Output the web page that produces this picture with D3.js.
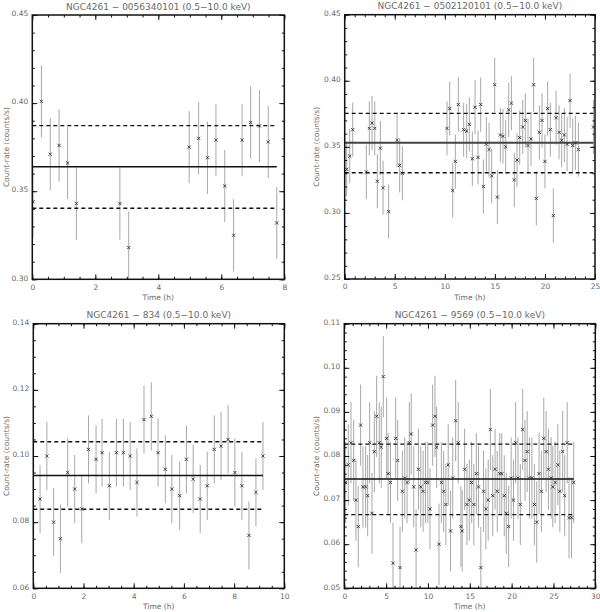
<!DOCTYPE html>
<html><head><meta charset="utf-8">
<script src="https://cdn.jsdelivr.net/npm/d3@7"></script>
<style>body{margin:0;background:#fff}svg{display:block}</style>
</head><body>
<svg id="c" width="600" height="612"></svg>
<script>
// ---------- Panel 1: NGC4261 - 0056340101 ----------
const p1Title = "NGC4261 \u2212 0056340101 (0.5\u221210.0 keV)";
const p1Time = [0.02,0.29,0.57,0.85,1.12,1.40,2.78,3.06,4.98,5.28,5.56,5.83,6.11,6.39,6.66,6.93,7.21,7.49,7.76];
const p1Rate = [0.344,0.401,0.371,0.376,0.366,0.343,0.343,0.318,0.375,0.380,0.369,0.379,0.353,0.325,0.379,0.389,0.387,0.378,0.332];
const p1Err = 0.0205;
const p1Stats = [0.3639, 0.3403, 0.3872]; // mean, lower, upper
const p1XTicks = [0,2,4,6,8];
const p1YTicks = [0.30,0.35,0.40,0.45];

// ---------- Panel 2: NGC4261 - 0502120101 ----------
const p2Title = "NGC4261 \u2212 0502120101 (0.5\u221210.0 keV)";
const p2Time = [0.2,0.5,0.8,2.16,2.46,2.73,3.0,3.26,3.56,3.83,4.39,5.23,5.49,5.76,
  10.22,10.49,10.79,11.05,11.35,11.88,12.18,12.45,12.75,13.02,13.32,13.58,13.85,14.15,14.42,14.68,
  14.98,15.25,15.55,15.81,16.08,16.38,16.65,16.94,17.21,17.48,17.78,18.04,18.31,18.61,18.87,19.14,
  19.44,19.71,20.0,20.27,20.54,20.84,21.11,21.41,21.67,21.94,22.21,22.51,22.77,23.04,23.34,24.84];
const p2Rate = [0.333,0.343,0.363,0.331,0.364,0.368,0.364,0.324,0.349,0.319,0.301,0.355,0.336,0.330,
  0.364,0.379,0.317,0.339,0.382,0.363,0.362,0.367,0.341,0.380,0.342,0.382,0.320,0.352,0.348,0.328,
  0.397,0.312,0.359,0.358,0.350,0.378,0.383,0.325,0.340,0.357,0.365,0.370,0.351,0.356,0.397,0.311,
  0.361,0.370,0.339,0.379,0.363,0.298,0.372,0.361,0.355,0.359,0.352,0.385,0.351,0.353,0.348,0.365];
const p2Err = 0.0205;
const p2Stats = [0.3531, 0.3304, 0.3753];
const p2XTicks = [0,5,10,15,20,25];
const p2YTicks = [0.25,0.30,0.35,0.40,0.45];

// ---------- Panel 3: NGC4261 - 834 ----------
const p3Title = "NGC4261 \u2212 834 (0.5\u221210.0 keV)";
const p3Time = [0.27,0.54,0.81,1.08,1.37,1.65,1.93,2.20,2.50,2.74,3.03,3.31,3.59,3.86,4.13,4.41,4.70,
  4.97,5.26,5.52,5.83,6.10,6.37,6.65,6.93,7.21,7.48,7.76,8.03,8.31,8.59,8.87,9.15];
const p3Rate = [0.087,0.100,0.080,0.075,0.095,0.090,0.084,0.102,0.099,0.101,0.091,0.101,0.101,0.100,0.092,0.111,0.112,
  0.101,0.096,0.090,0.088,0.099,0.093,0.087,0.091,0.102,0.103,0.105,0.095,0.091,0.076,0.089,0.100];
const p3Err = 0.0103;
const p3Stats = [0.0941, 0.0839, 0.1043];
const p3XTicks = [0,2,4,6,8,10];
const p3YTicks = [0.06,0.08,0.10,0.12,0.14];

// ---------- Panel 4: NGC4261 - 9569 ----------
const p4Title = "NGC4261 \u2212 9569 (0.5\u221210.0 keV)";
const p4Time = [0.16,0.48,0.80,1.12,1.39,1.67,1.95,2.23,2.55,2.79,3.03,3.31,3.59,3.86,4.18,4.42,4.66,5.06,
  5.24,5.52,5.82,6.14,6.38,6.66,6.94,7.22,7.50,7.77,8.00,8.30,8.58,8.86,9.14,9.42,9.70,9.98,
  10.24,10.56,10.84,11.04,11.32,11.60,11.88,12.14,12.42,12.70,12.96,13.31,13.62,13.94,14.09,14.38,
  14.66,14.94,15.22,15.48,15.78,16.04,16.32,16.64,16.92,17.20,17.46,17.74,18.02,18.28,18.58,18.82,
  19.12,19.36,19.64,19.94,20.22,20.48,20.76,21.04,21.32,21.60,21.86,22.14,22.42,22.72,23.00,23.28,
  23.56,23.84,24.12,24.40,24.72,24.92,25.20,25.52,25.76,26.10,26.34,26.64,26.86,27.16,27.42];
const p4Rate = [0.074,0.078,0.083,0.079,0.070,0.064,0.087,0.073,0.073,0.071,0.083,0.067,0.081,0.089,0.083,0.082,0.098,0.084,
  0.076,0.074,0.0557,0.084,0.079,0.0547,0.072,0.075,0.074,0.083,0.085,0.073,0.0587,0.077,0.073,0.072,0.074,0.074,
  0.068,0.087,0.089,0.082,0.060,0.074,0.072,0.069,0.078,0.063,0.075,0.088,0.083,0.064,0.063,0.077,
  0.069,0.070,0.074,0.069,0.076,0.073,0.0547,0.072,0.068,0.070,0.086,0.071,0.077,0.072,0.076,0.076,
  0.071,0.067,0.064,0.075,0.070,0.083,0.075,0.069,0.086,0.079,0.081,0.075,0.075,0.069,0.065,0.076,
  0.072,0.084,0.081,0.077,0.075,0.073,0.074,0.078,0.072,0.081,0.071,0.083,0.066,0.066,0.074];
const p4Err = 0.0092;
const p4Stats = [0.0748, 0.0667, 0.0827];
const p4XTicks = [0,5,10,15,20,25,30];
const p4YTicks = [0.05,0.06,0.07,0.08,0.09,0.10,0.11];

const xLabel = "Time (h)";
const yLabel = "Count-rate (counts/s)";

const panels = [
  {title:p1Title, t:p1Time, r:p1Rate, err:p1Err, stats:p1Stats, xt:p1XTicks, yt:p1YTicks, xMinor:0.5, yMinor:0.01,
   box:{l:32.3, r:284.3, t:15, b:279.3}, yTitleOff:26},
  {title:p2Title, t:p2Time, r:p2Rate, err:p2Err, stats:p2Stats, xt:p2XTicks, yt:p2YTicks, xMinor:1, yMinor:0.01,
   box:{l:344.7, r:595, t:14.7, b:279}, yTitleOff:28},
  {title:p3Title, t:p3Time, r:p3Rate, err:p3Err, stats:p3Stats, xt:p3XTicks, yt:p3YTicks, xMinor:0.5, yMinor:0.005,
   box:{l:33.3, r:284.3, t:323.7, b:588.3}, yTitleOff:27},
  {title:p4Title, t:p4Time, r:p4Rate, err:p4Err, stats:p4Stats, xt:p4XTicks, yt:p4YTicks, xMinor:1, yMinor:0.002,
   box:{l:344.3, r:595.3, t:323.7, b:588.3}, yTitleOff:28}
];

const svg = d3.select("#c");
const FONT = "'DejaVu Sans', 'Liberation Sans', sans-serif";
const TXT = "#6a6a6a";

function range(a, b, s) {
  const out = []; const n = Math.round((b - a) / s);
  for (let i = 0; i <= n; i++) out.push(+(a + i * s).toFixed(6));
  return out;
}

panels.forEach((p, i) => {
  const B = p.box;
  const x = d3.scaleLinear().domain([p.xt[0], p.xt[p.xt.length-1]]).range([B.l, B.r]);
  const y = d3.scaleLinear().domain([p.yt[0], p.yt[p.yt.length-1]]).range([B.b, B.t]);
  const g = svg.append("g");
  const clipId = "clip" + i;
  svg.append("clipPath").attr("id", clipId).append("rect")
    .attr("x", B.l).attr("y", B.t).attr("width", B.r - B.l).attr("height", B.b - B.t);

  const data = p.t.map((tt, k) => ({t: tt, r: p.r[k]}));
  const plot = g.append("g").attr("clip-path", `url(#${clipId})`);

  // error bars
  plot.selectAll("line.err").data(data).join("line").attr("class","err")
    .attr("x1", d => x(d.t)).attr("x2", d => x(d.t))
    .attr("y1", d => y(d.r - p.err)).attr("y2", d => y(d.r + p.err))
    .attr("stroke", "#a8a8a8").attr("stroke-width", 1);

  // mean and bounds lines
  const tEnd = d3.max(p.t);
  const lines = [
    {v: p.stats[0], dash: null},
    {v: p.stats[1], dash: "4,3"},
    {v: p.stats[2], dash: "4,3"}
  ];
  plot.selectAll("line.stat").data(lines).join("line").attr("class","stat")
    .attr("x1", x(p.xt[0])).attr("x2", x(tEnd))
    .attr("y1", d => y(d.v)).attr("y2", d => y(d.v))
    .attr("stroke", d => d.dash ? "#111" : (i === 1 ? "#444" : "#111"))
    .attr("stroke-width", d => d.dash ? 1.4 : (i === 1 ? 2 : 1.4))
    .attr("stroke-dasharray", d => d.dash);

  // x markers
  const s = 1.6;
  const mk = plot.selectAll("g.mk").data(data).join("g").attr("class","mk")
    .attr("transform", d => `translate(${x(d.t)},${y(d.r)})`);
  mk.append("path").attr("d", `M${-s},${-s}L${s},${s}M${-s},${s}L${s},${-s}`)
    .attr("stroke", "#333").attr("stroke-width", 0.9).attr("fill", "none");

  // axes
  const xMinor = range(p.xt[0], p.xt[p.xt.length-1], p.xMinor);
  const yMinor = range(p.yt[0], p.yt[p.yt.length-1], p.yMinor);
  const styleAxis = sel => {
    sel.select(".domain").remove();
    sel.selectAll(".tick line").attr("stroke", "#111").attr("stroke-width", 1);
    sel.selectAll("text").attr("font-family", FONT).attr("font-size", 7.5).attr("fill", TXT);
  };
  const fmtY = d3.format(".2f");
  const fmtX = d3.format("d");
  // bottom
  g.append("g").attr("transform", `translate(0,${B.b})`)
    .call(d3.axisBottom(x).tickValues(xMinor).tickSize(-2.5).tickFormat("")).call(styleAxis);
  g.append("g").attr("transform", `translate(0,${B.b})`)
    .call(d3.axisBottom(x).tickValues(p.xt).tickSize(-5).tickPadding(5).tickFormat(fmtX)).call(styleAxis);
  // top
  g.append("g").attr("transform", `translate(0,${B.t})`)
    .call(d3.axisTop(x).tickValues(xMinor).tickSize(-2.5).tickFormat("")).call(styleAxis);
  g.append("g").attr("transform", `translate(0,${B.t})`)
    .call(d3.axisTop(x).tickValues(p.xt).tickSize(-5).tickFormat("")).call(styleAxis);
  // left
  g.append("g").attr("transform", `translate(${B.l},0)`)
    .call(d3.axisLeft(y).tickValues(yMinor).tickSize(-2.5).tickFormat("")).call(styleAxis);
  const yl = g.append("g").attr("transform", `translate(${B.l},0)`)
    .call(d3.axisLeft(y).tickValues(p.yt).tickSize(-5).tickPadding(4).tickFormat(fmtY)).call(styleAxis);
  yl.selectAll("text").attr("dy", "0.1em");
  // right
  g.append("g").attr("transform", `translate(${B.r},0)`)
    .call(d3.axisRight(y).tickValues(yMinor).tickSize(-2.5).tickFormat("")).call(styleAxis);
  g.append("g").attr("transform", `translate(${B.r},0)`)
    .call(d3.axisRight(y).tickValues(p.yt).tickSize(-5).tickFormat("")).call(styleAxis);

  // frame
  g.append("rect").attr("x", B.l).attr("y", B.t).attr("width", B.r - B.l).attr("height", B.b - B.t)
    .attr("fill", "none").attr("stroke", "#111").attr("stroke-width", 1.5);

  // titles
  g.append("text").attr("x", (B.l + B.r) / 2).attr("y", B.t - 5.5)
    .attr("text-anchor", "middle").attr("font-family", FONT).attr("font-size", 9)
    .attr("fill", TXT).text(p.title);
  g.append("text").attr("x", (B.l + B.r) / 2).attr("y", B.b + 21)
    .attr("text-anchor", "middle").attr("font-family", FONT).attr("font-size", 7.5)
    .attr("fill", TXT).text(xLabel);
  g.append("text").attr("transform", `translate(${B.l - p.yTitleOff},${(B.t + B.b) / 2}) rotate(-90)`)
    .attr("text-anchor", "middle").attr("dy", "0.35em").attr("font-family", FONT).attr("font-size", 7.5)
    .attr("fill", TXT).text(yLabel);
});
</script>
</body></html>
